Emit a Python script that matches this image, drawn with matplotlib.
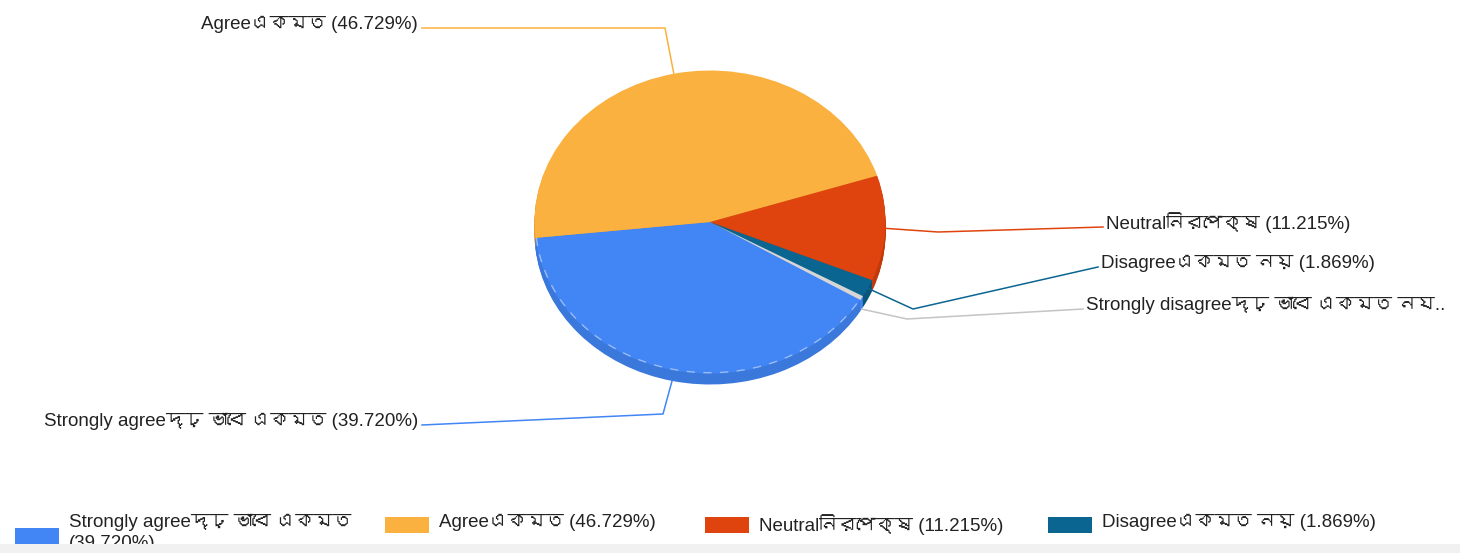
import numpy as np
import matplotlib.pyplot as plt
from matplotlib import font_manager
from matplotlib.ft2font import FT2Font
from matplotlib.patches import Rectangle

# answers and their share (%)
names = ['Strongly agreeদৃঢ় ভাবে একমত', 'Agreeএকমত', 'Neutralনিরপেক্ষ',
         'Disagreeএকমত নয়', 'Strongly disagreeদৃঢ় ভাবে একমত নয়']
pcts = [39.720, 46.729, 11.215, 1.869, 0.467]
colors = ['#4285f4', '#fbb13f', '#e0440e', '#0b6591', '#d6d6d6']
sides = ['#3a78dc', '#e09d36', '#c23a0b', '#09567c', '#4285f4']

W, H = 1460, 553
cx, cy = 710, 222        # pie centre, pixels
rx, ry = 175.5, 151.5    # squashed (tilted) radii
depth = 11

# look for any installed face that covers Bengali
bengali = []
for f in font_manager.fontManager.ttflist:
    try:
        if 0x098F in FT2Font(f.fname).get_charmap() and f.name not in bengali:
            bengali.append(f.name)
    except Exception:
        pass

plt.rcParams['font.family'] = ['Liberation Sans'] + bengali[:1] + ['DejaVu Sans']
fig = plt.figure(figsize=(W/100, H/100), dpi=100, facecolor='white')

# pie in unit-circle coords, squashed by the axes limits
ax = fig.add_axes([0, 0, 1, 1])
for k in range(depth, 0, -1):
    ax.pie(pcts, colors=sides, startangle=-31, counterclock=False,
           center=(0, -k/ry), radius=1, frame=True,
           wedgeprops=dict(linewidth=0))
wedges, _ = ax.pie(pcts, colors=colors, startangle=-31, counterclock=False,
                   center=(0, 0), radius=1, frame=True,
                   wedgeprops=dict(linewidth=0))
# faint dashed rim on the front slice
w = wedges[0]
t = np.radians(np.linspace(w.theta1, w.theta2, 200))
t = t[np.sin(t) < -0.05]
ax.plot(np.cos(t)*0.995, np.sin(t)*0.995, color='white', lw=1, ls=(0, (6, 6)), alpha=0.45)
ax.set_aspect('auto')
ax.set_xlim(-cx/rx, (W-cx)/rx)
ax.set_ylim((cy-H)/ry, cy/ry)
ax.axis('off')

# overlay in pixel coords for leader lines, labels and legend
ov = fig.add_axes([0, 0, 1, 1])
ov.set_xlim(0, W)
ov.set_ylim(H, 0)
ov.axis('off')

elbows = [(663, 414), (665, 28), (938, 232), (913, 309), (907, 319)]
ends = [(422, 425), (422, 28), (1103, 227), (1098, 267), (1083, 309)]
line_cols = ['#4285f4', '#fbb13f', '#e0440e', '#0b6591', '#c4c4c4']

for i, wd in enumerate(wedges):
    a = np.radians((wd.theta1 + wd.theta2) / 2)
    sx = cx + rx*np.cos(a)
    sy = cy - ry*np.sin(a) + (depth if np.sin(a) < -0.5 else 0)
    ex, ey = elbows[i]
    tx, ty = ends[i]
    ov.plot([sx, ex, tx], [sy, ey, ty], color=line_cols[i], lw=1.1)
    lab = f'{names[i]} ({pcts[i]:.3f}%)'
    if i == 4:
        lab = names[i][:-1] + '..'
    left = tx < cx
    ov.text(tx - 4 if left else tx + 3, ty - 4, lab, fontsize=13.5, color='#222222',
            ha='right' if left else 'left', va='center')

# legend along the bottom (first four entries fit)
leg_x = [15, 385, 705, 1048]
for i, x in enumerate(leg_x):
    lab = f'{names[i]} ({pcts[i]:.3f}%)'
    if i == 0:
        lab = f'{names[i]}\n({pcts[i]:.3f}%)'
        ov.add_patch(Rectangle((x, 528), 44, 18, color=colors[i], lw=0))
    else:
        ov.add_patch(Rectangle((x, 517), 44, 16, color=colors[i], lw=0))
    ov.text(x + 54, 514, lab, fontsize=13.5, color='#222222', ha='left', va='top',
            linespacing=1.3)

ov.add_patch(Rectangle((0, 544), W, 9, color='#f1f1f1', lw=0, zorder=10))

fig.savefig('out.png', dpi=100, facecolor='white')
